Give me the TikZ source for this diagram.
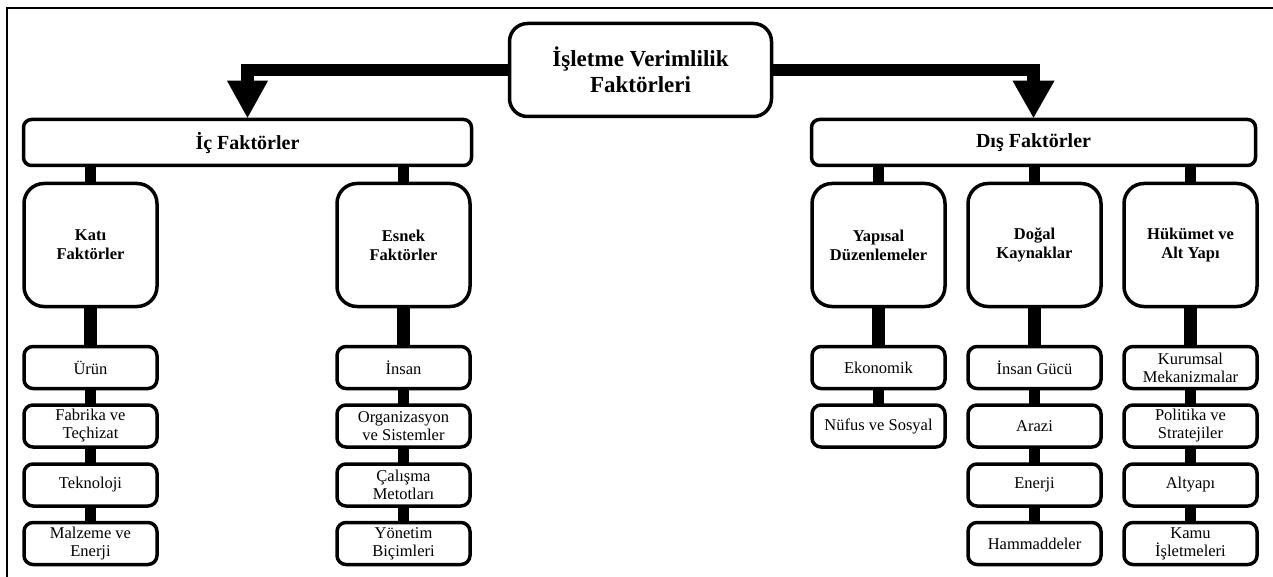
\documentclass[tikz,border=0pt]{standalone}
\usepackage{fontspec}
\setmainfont{Liberation Serif}
\usetikzlibrary{backgrounds}
\tikzset{
  box/.style={draw=black, line width=3.5pt, fill=white, align=center, inner sep=2pt},
  rootbox/.style={box, minimum width=262pt, minimum height=93pt, rounded corners=18pt,
    font=\fontsize{23}{26}\selectfont\bfseries},
  catbox/.style={box, minimum height=46pt, rounded corners=8pt,
    font=\fontsize{20}{23}\selectfont\bfseries},
  bigbox/.style={box, minimum width=133pt, minimum height=123pt, rounded corners=20pt,
    font=\fontsize{16.5}{19}\selectfont\bfseries},
  smallbox/.style={box, minimum width=133pt, minimum height=42pt, rounded corners=9pt,
    font=\fontsize{16.5}{18}\selectfont},
  thick bar/.style={line width=12.5pt, line join=miter, line cap=butt},
  thin bar/.style={line width=11pt, line cap=butt},
  frame/.style={line width=2pt}
}
\begin{document}
\begin{tikzpicture}[x=1pt,y=-1pt]
\useasboundingbox (0,0) rectangle (1273,577);
\draw[frame] (7,580) -- (7,8) -- (1276,8);

% root and categories
\node[rootbox] (root) at (640.5,70) {İşletme Verimlilik\\Faktörleri};
\node[catbox, minimum width=448pt] (ic) at (247.5,142.5) {İç Faktörler};
\node[catbox, minimum width=444pt] (dis) at (1033.5,142.5) {Dış Faktörler};

% big boxes
\node[bigbox] (kati) at (90.5,245) {Katı\\Faktörler};
\node[bigbox] (esnek) at (403.5,245) {Esnek\\Faktörler};
\node[bigbox] (yapi) at (878.5,245) {Yapısal\\Düzenlemeler};
\node[bigbox] (dogal) at (1034.5,245) {Doğal\\Kaynaklar};
\node[bigbox] (huk) at (1190.5,245) {Hükümet ve\\Alt Yapı};

% small boxes
\node[smallbox] (k1) at (90.5,367.5) {Ürün};
\node[smallbox] (k2) at (90.5,426) {Fabrika ve\\Teçhizat};
\node[smallbox] (k3) at (90.5,485) {Teknoloji};
\node[smallbox] (k4) at (90.5,543.5) {Malzeme ve\\Enerji};

\node[smallbox] (e1) at (403.5,367.5) {İnsan};
\node[smallbox] (e2) at (403.5,426) {Organizasyon\\ve Sistemler};
\node[smallbox] (e3) at (403.5,485) {Çalışma\\Metotları};
\node[smallbox] (e4) at (403.5,543.5) {Yönetim\\Biçimleri};

\node[smallbox] (y1) at (878.5,367.5) {Ekonomik};
\node[smallbox] (y2) at (878.5,426) {Nüfus ve Sosyal};

\node[smallbox] (d1) at (1034.5,367.5) {İnsan Gücü};
\node[smallbox] (d2) at (1034.5,426) {Arazi};
\node[smallbox] (d3) at (1034.5,485) {Enerji};
\node[smallbox] (d4) at (1034.5,543.5) {Hammaddeler};

\node[smallbox] (h1) at (1190.5,367.5) {Kurumsal\\Mekanizmalar};
\node[smallbox] (h2) at (1190.5,426) {Politika ve\\Stratejiler};
\node[smallbox] (h3) at (1190.5,485) {Altyapı};
\node[smallbox] (h4) at (1190.5,543.5) {Kamu\\İşletmeleri};

% arrows from root
\coordinate (ictop) at ([yshift=37pt]ic.north);
\coordinate (distop) at ([yshift=37pt]dis.north);
\draw[thick bar] (root.west) -| ([yshift=-1pt]ictop);
\draw[thick bar] (root.east) -| ([yshift=-1pt]distop);
\fill (ic.north) -- ([xshift=-20.5pt]ictop) -- ([xshift=20.5pt]ictop) -- cycle;
\fill (dis.north) -- ([xshift=-21pt]distop) -- ([xshift=21pt]distop) -- cycle;

\begin{pgfonlayer}{background}
  \foreach \c/\p in {kati/ic, esnek/ic, yapi/dis, dogal/dis, huk/dis}
    \draw[thin bar] (\c.center) -- (\c.center |- \p.center);
  \foreach \c/\s in {kati/k1, esnek/e1, yapi/y1, dogal/d1, huk/h1}
    \draw[thick bar] (\c.center) -- (\s.center);
  \foreach \a/\b in {k1/k2, k2/k3, k3/k4, e1/e2, e2/e3, e3/e4, y1/y2,
                     d1/d2, d2/d3, d3/d4, h1/h2, h2/h3, h3/h4}
    \draw[thin bar] (\a.center) -- (\b.center);
\end{pgfonlayer}
\end{tikzpicture}
\end{document}
